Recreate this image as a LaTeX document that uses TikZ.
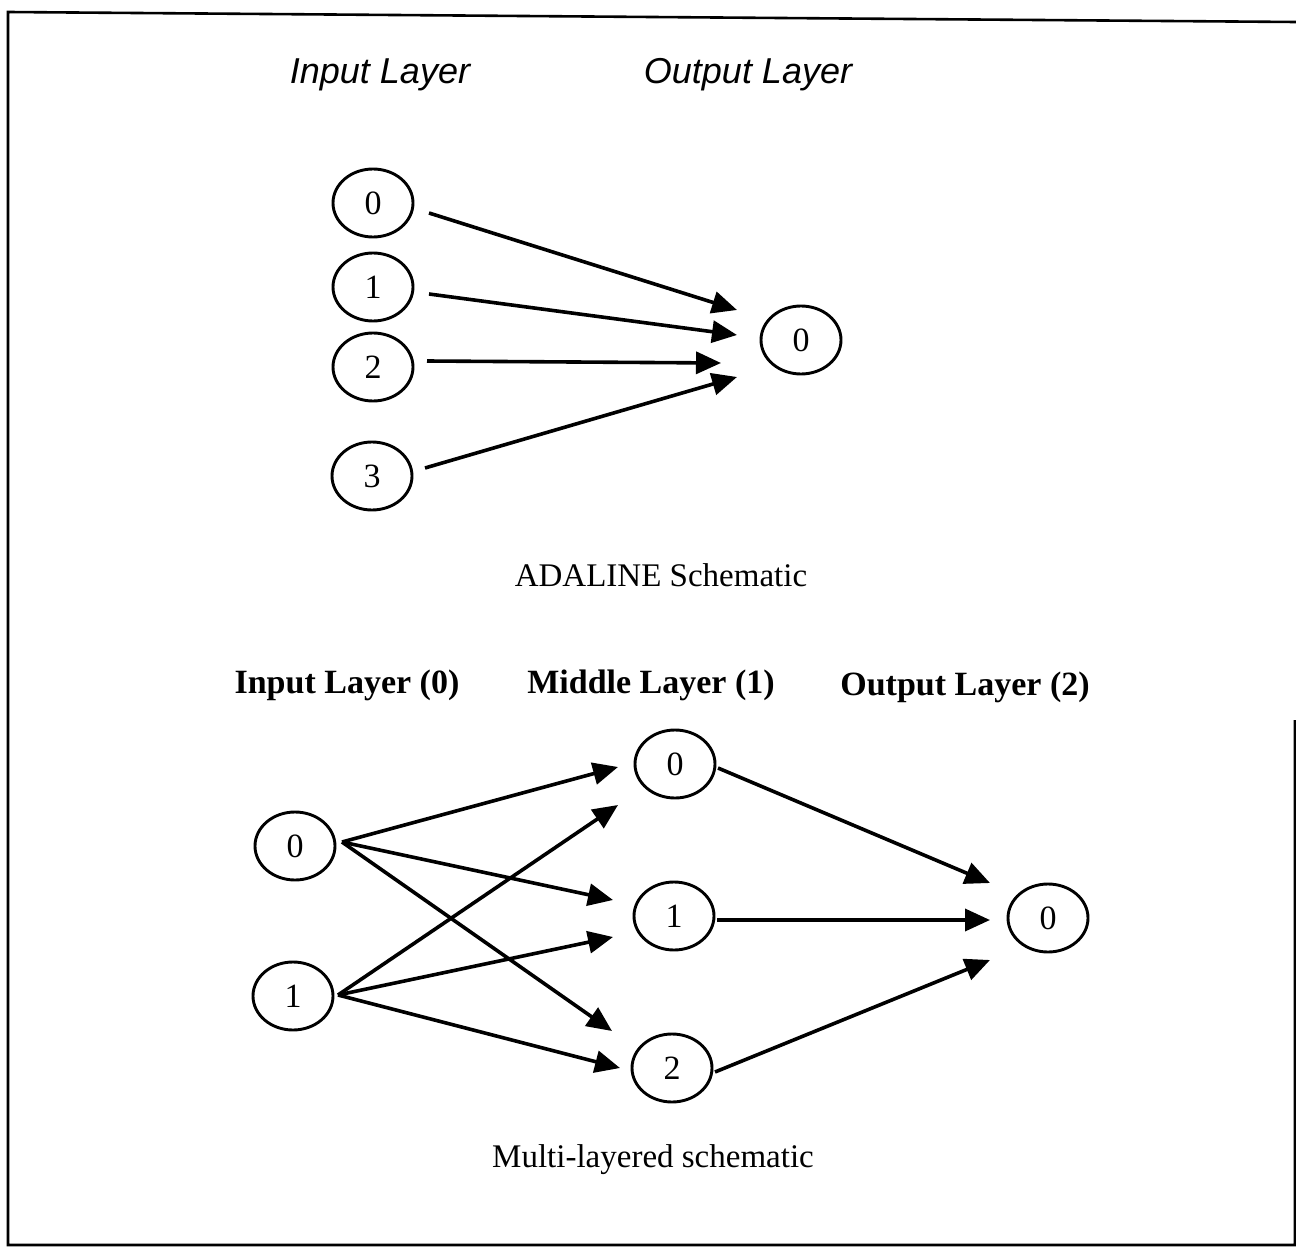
\documentclass[tikz,border=0pt]{standalone}
\usepackage{fontspec}
\setmainfont{Liberation Serif}
\newfontfamily\arialf{Liberation Sans}
\usetikzlibrary{shapes.geometric,arrows.meta,calc}
\tikzset{
  neuron/.style={ellipse,draw,line width=1.45pt,minimum width=40pt,minimum height=34pt,inner sep=0pt,font=\fontsize{17}{19}\selectfont},
  arr/.style={line width=1.8pt,-{Triangle[length=12.5pt,width=11pt]}},
  frame/.style={line width=1.3pt},
  toplabel/.style={font=\arialf\itshape\fontsize{18}{20}\selectfont},
  boldlabel/.style={font=\bfseries\fontsize{17}{19}\selectfont},
  caption/.style={font=\fontsize{16.5}{19}\selectfont}
}
\begin{document}
\begin{tikzpicture}[x=0.5pt,y=-0.5pt]
\useasboundingbox (0,0) rectangle (1296,1247);
% frame
\coordinate (fa) at (1295,720);
\coordinate (fb) at (1295,1245);
\coordinate (fc) at (8,1245);
\coordinate (fd) at (8,12);
\coordinate (fe) at (1296,22);
\draw[frame] (fa) -- (fb) -- (fc) -- (fd) -- (fe);

% ADALINE
\node[toplabel] (tl1) at (380,75) {Input Layer};
\node[toplabel] (tl2) at (748,75) {Output Layer};
\node[neuron] (i0) at (373,203) {0};
\node[neuron] (i1) at (373,287) {1};
\node[neuron] (i2) at (373,367) {2};
\node[neuron] (i3) at (372,476) {3};
\node[neuron] (o0) at (801,340) {0};
\node[caption] (cap1) at (661,575) {ADALINE Schematic};

\draw[arr] ($(i0)+(56,10)$) -- ($(o0)+(-64,-30)$);
\draw[arr] ($(i1)+(56,7)$) -- ($(o0)+(-64,-5)$);
\draw[arr] ($(i2)+(54,-6)$) -- ($(o0)+(-80,23)$);
\draw[arr] ($(i3)+(53,-8)$) -- ($(o0)+(-64,37)$);

% Multi-layered
\node[boldlabel] (bl1) at (347,685) {Input Layer (0)};
\node[boldlabel] (bl2) at (651,685) {Middle Layer (1)};
\node[boldlabel] (bl3) at (965,687) {Output Layer (2)};
\node[neuron] (a0) at (295,846) {0};
\node[neuron] (a1) at (293,996) {1};
\node[neuron] (m0) at (675,764) {0};
\node[neuron] (m1) at (674,916) {1};
\node[neuron] (m2) at (672,1068) {2};
\node[neuron] (out) at (1048,918) {0};
\node[caption] (cap2) at (653,1160) {Multi-layered schematic};

\coordinate (s0) at ($(a0)+(47,-4)$);
\coordinate (s1) at ($(a1)+(45,-1)$);
\draw[arr] (s0) -- ($(m0)+(-57,3)$);
\draw[arr] (s0) -- ($(m1)+(-61,-16)$);
\draw[arr] (s0) -- ($(m2)+(-60,-37)$);
\draw[arr] (s1) -- ($(m0)+(-57,41)$);
\draw[arr] (s1) -- ($(m1)+(-61,21)$);
\draw[arr] (s1) -- ($(m2)+(-52,0)$);
\draw[arr] ($(m0)+(43,4)$) -- ($(out)+(-58,-35)$);
\draw[arr] ($(m1)+(43,4)$) -- ($(out)+(-58,2)$);
\draw[arr] ($(m2)+(43,4)$) -- ($(out)+(-58,42)$);
\end{tikzpicture}
\end{document}
